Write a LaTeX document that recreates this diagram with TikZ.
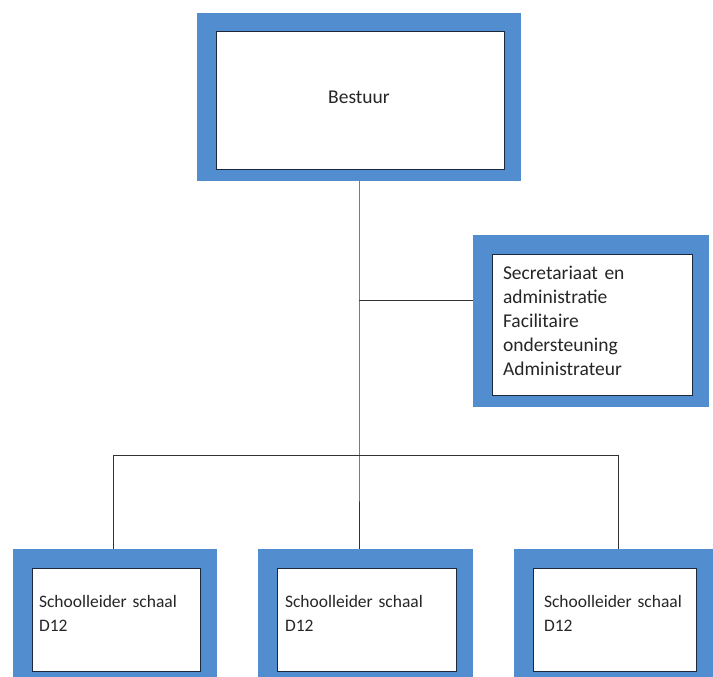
\documentclass[tikz,border=0pt]{standalone}
\usepackage{fontspec}
\newfontfamily\orgfont{Carlito}
\usetikzlibrary{positioning,calc}
\definecolor{boxblue}{RGB}{82,141,208}
\definecolor{boxline}{RGB}{30,40,60}

\begin{document}
\begin{tikzpicture}[
  x=1pt, y=-1pt,
  conn/.style={draw=black!80, line width=1pt},
  orgbox/.style={fill=boxblue, inner sep=0pt, outer sep=0pt, text=black!85,
    path picture={\fill[white, draw=boxline, line width=1pt]
      ($(path picture bounding box.south west)+(19,-#1)$) rectangle
      ($(path picture bounding box.north east)+(-17,19)$);}},
  orgbox/.default=12,
  bigtxt/.style={font=\orgfont\fontsize{19.5}{24}\selectfont},
  smalltxt/.style={font=\orgfont\fontsize{17.5}{24}\selectfont}
]
\useasboundingbox (0,0) rectangle (713,677);

\node[orgbox, bigtxt, minimum width=324pt, minimum height=168pt] (bst) at (359,97) {Bestuur};
\node[orgbox, bigtxt, minimum width=236pt, minimum height=172pt,
  inner xsep=30pt, text width=176pt, align=left] (sec) at (591,321)
  {Secretariaat en\\ administratie\\ Facilitaire\\ ondersteuning\\ Administrateur};

% schoolleiders
\node[orgbox=6, smalltxt, minimum width=204pt, minimum height=128pt,
  inner xsep=26pt, text width=152pt, align=left] (sl1) at (115,613) {Schoolleider schaal\\ D12};
\node[orgbox=6, smalltxt, minimum width=215pt, minimum height=128pt,
  inner xsep=27pt, text width=161pt, align=left] (sl2) at (365.5,613) {Schoolleider schaal\\ D12};
\node[orgbox=6, smalltxt, minimum width=199pt, minimum height=128pt,
  inner xsep=30pt, text width=139pt, align=left] (sl3) at (613.5,613) {Schoolleider schaal\\ D12};

\coordinate (hub) at ($(bst.south)+(0,274)$);
\coordinate (secin) at ([yshift=21pt]sec.west);
\draw[conn] (bst.south) -- (hub) -- (hub |- sl2.north);
\draw[conn] (bst.south |- secin) -- (secin);
\draw[conn] ([xshift=-2pt]sl1.north) -- ([xshift=-2pt]sl1.north |- hub)
  -- ([xshift=5pt]sl3.north |- hub) -- ([xshift=5pt]sl3.north);
\end{tikzpicture}
\end{document}
